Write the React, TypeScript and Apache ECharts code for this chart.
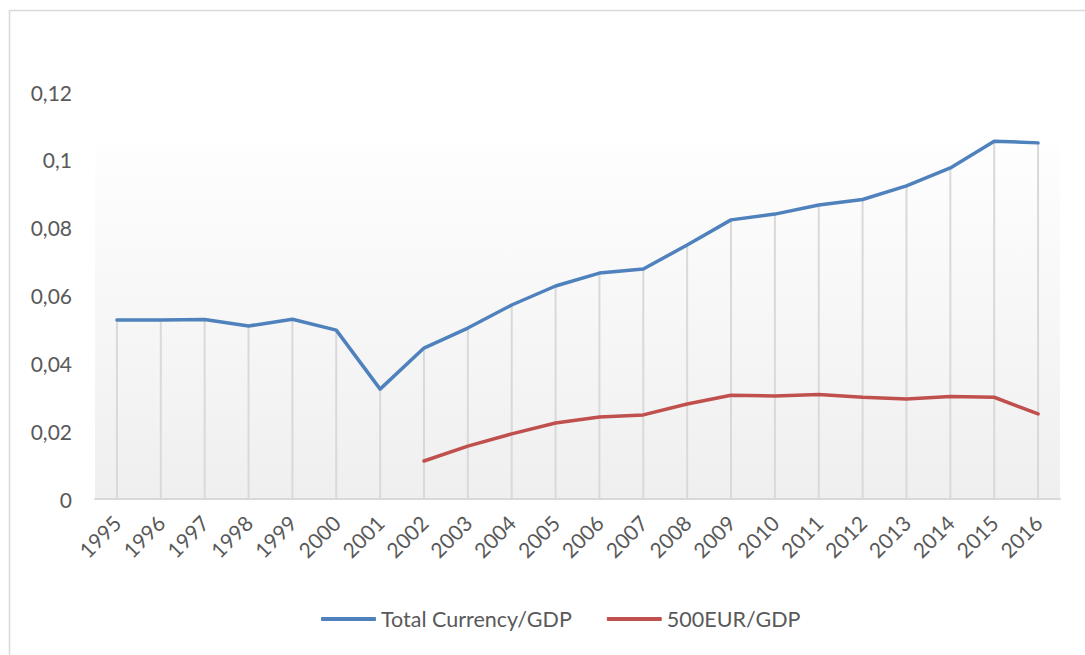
import React, { useEffect, useRef } from "react";
import * as echarts from "echarts";

const years = ["1995","1996","1997","1998","1999","2000","2001","2002","2003","2004","2005","2006","2007","2008","2009","2010","2011","2012","2013","2014","2015","2016"];
const totalCurrency = [0.0528,0.0528,0.0529,0.0510,0.0530,0.0498,0.0324,0.0445,0.0504,0.0572,0.0628,0.0666,0.0678,0.0749,0.0823,0.0840,0.0867,0.0883,0.0923,0.0976,0.1055,0.1050];
const eur500 = [null,null,null,null,null,null,null,0.0112,0.0156,0.0192,0.0224,0.0242,0.0248,0.0280,0.0306,0.0304,0.0308,0.0300,0.0295,0.0302,0.0300,0.0251];
const seriesNames = ["Total Currency/GDP", "500EUR/GDP"];

const FONT = "Lato, 'Noto Sans', sans-serif";
const TXT = "#595959";

export default function App() {
  const ref = useRef<HTMLDivElement>(null);
  useEffect(() => {
    if (!ref.current) return;
    const chart = echarts.init(ref.current, undefined, { renderer: "svg" });
    const drops = totalCurrency.map((b, i) => Math.max(b, eur500[i] ?? 0));
    chart.setOption({
      animation: false,
      backgroundColor: "#ffffff",
      textStyle: { fontFamily: FONT, color: TXT },
      graphic: [
        { type: "rect", z: -10, silent: true, shape: { x: 9.5, y: 10.5, width: 1200, height: 800 }, style: { fill: "none", stroke: "#d9d9d9", lineWidth: 1.5 } },
        {
          type: "rect", z: -5, silent: true,
          shape: { x: 95, y: 145, width: 965, height: 354 },
          style: {
            fill: new echarts.graphic.LinearGradient(0, 0, 0, 1, [
              { offset: 0, color: "#fefefe" },
              { offset: 1, color: "#efefef" },
            ]),
          },
        },
      ],
      grid: { left: 95, right: 25, top: 92, bottom: 156, containLabel: false },
      legend: {
        data: seriesNames,
        bottom: 20,
        left: 316,
        icon: "roundRect",
        itemWidth: 55,
        itemHeight: 4,
        itemGap: 35,
        textStyle: { fontFamily: FONT, fontSize: 21.5, color: TXT },
      },
      xAxis: {
        type: "category",
        data: years,
        boundaryGap: true,
        axisLine: { show: true, lineStyle: { color: "#d9d9d9", width: 2 } },
        axisTick: { show: false },
        axisLabel: { rotate: 45, fontSize: 21, color: TXT, fontFamily: FONT, margin: 20, interval: 0 },
        splitLine: { show: false },
      },
      yAxis: {
        type: "value",
        min: 0,
        max: 0.12,
        interval: 0.02,
        axisLine: { show: false },
        axisTick: { show: false },
        splitLine: { show: false },
        axisLabel: {
          fontSize: 21, color: TXT, fontFamily: FONT, margin: 23,
          formatter: (v: number) => (v === 0 ? "0" : String(Math.round(v * 100) / 100).replace(".", ",")),
        },
      },
      series: [
        {
          name: "drops", type: "bar", data: drops, barWidth: 2, silent: true, z: 1,
          itemStyle: { color: "#d9d9d9" },
        },
        {
          name: seriesNames[0], type: "line", data: totalCurrency, showSymbol: false, symbol: "none", z: 3,
          lineStyle: { color: "#4F81BD", width: 3.5, cap: "round", join: "round" },
          itemStyle: { color: "#4F81BD" },
        },
        {
          name: seriesNames[1], type: "line", data: eur500, showSymbol: false, symbol: "none", z: 3,
          lineStyle: { color: "#C0504D", width: 3.5, cap: "round", join: "round" },
          itemStyle: { color: "#C0504D" },
        },
      ],
    });
    return () => chart.dispose();
  }, []);
  return <div ref={ref} style={{ width: 1085, height: 655, position: "absolute", left: 0, top: 0 }} />;
}
